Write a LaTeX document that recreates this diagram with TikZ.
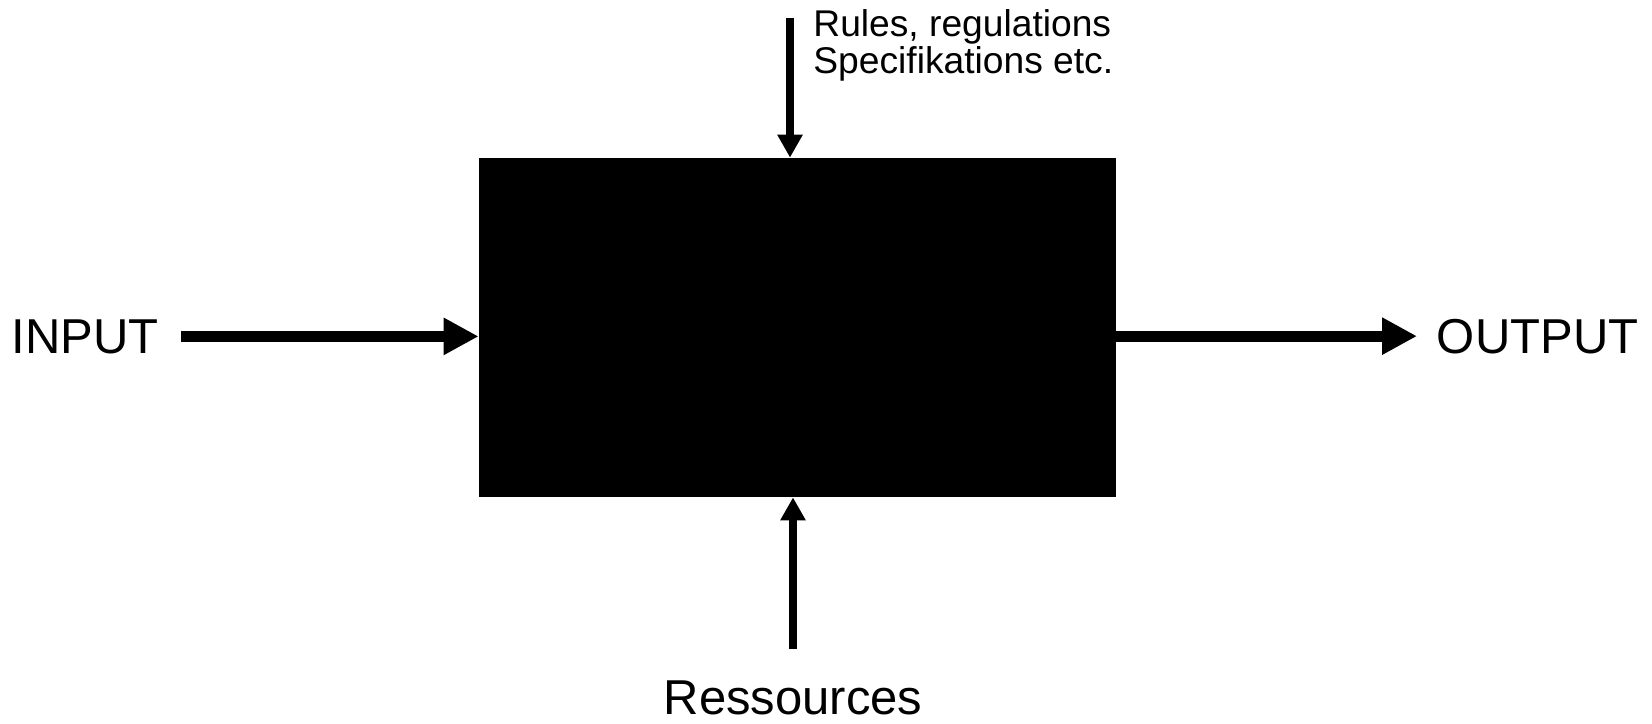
\documentclass[tikz,border=0pt]{standalone}
\usepackage{fontspec}
\setmainfont{Liberation Sans}
\usetikzlibrary{arrows.meta}

\begin{document}
\begin{tikzpicture}[x=0.5pt,y=-0.5pt,
  harr/.style={-{Triangle[length=17.5pt,width=17.5pt]},line width=5.5pt},
  varr/.style={-{Triangle[length=11.5pt,width=12pt]},line width=4pt},
  lbl/.style={inner sep=0pt,font=\fontsize{24.5}{29}\selectfont}]
\useasboundingbox (0,0) rectangle (1652,723);
% black process box
\node[fill=black,inner sep=0pt,minimum width=318.5pt,minimum height=169.5pt]
  (proc) at (797.5,327.5) {};
% labels round the box
\node[lbl,anchor=base west] (in)  at (11,353)     {INPUT};
\node[lbl,anchor=base west] (out) at (1436.5,353) {OUTPUT};
\node[lbl,anchor=base]      (res) at (793,714)    {Ressources};
\node[inner sep=0pt,anchor=north west,align=left,
  font=\fontsize{18.6}{16.5}\selectfont] (rul) at (813,9)
  {Rules, regulations\\Specifikations etc.};
% free end of the top arrow
\coordinate (ctop) at (790,18);
% arrows: input -> box -> output
\draw[harr,shorten <=11pt] (in.east) -- (in.east -| proc.west);
\draw[harr,shorten >=9.75pt] (out.west -| proc.east) -- (out.west);
% arrows: rules and ressources into the box
\draw[varr] (ctop) -- (ctop |- proc.north);
\draw[varr,shorten <=15.5pt] (res.north) -- (res.north |- proc.south);
\end{tikzpicture}
\end{document}
